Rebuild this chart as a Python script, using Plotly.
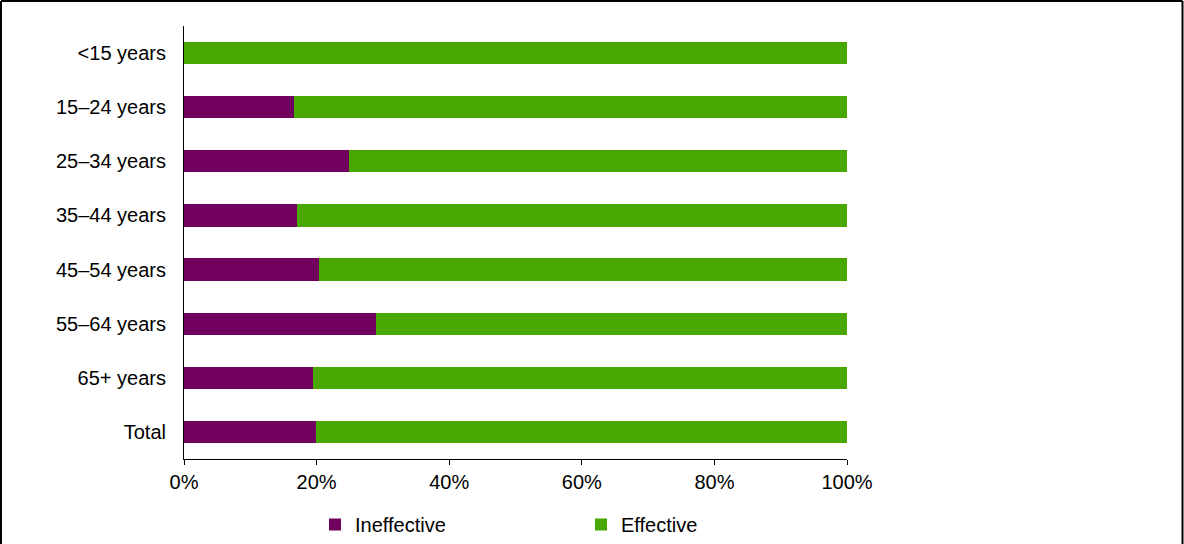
import plotly.graph_objects as go

categories = ["<15 years", "15–24 years", "25–34 years", "35–44 years",
              "45–54 years", "55–64 years", "65+ years", "Total"]
ineffective = [0, 16.6, 24.9, 17.0, 20.4, 29.0, 19.5, 19.9]
effective = [100, 83.4, 75.1, 83.0, 79.6, 71.0, 80.5, 80.1]
x_ticks = [0, 20, 40, 60, 80, 100]
x_tick_labels = ["0%", "20%", "40%", "60%", "80%", "100%"]

W, H = 1184, 544
L, R, T, B = 184, 847, 26, 459
pw, ph = R - L, B - T

def px(x):
    return (x - L) / pw

def py(y):
    return (B - y) / ph

FONT = "Liberation Sans, Arial, sans-serif"
PURPLE = "#72005f"
GREEN = "#48a800"

fig = go.Figure()
fig.add_trace(go.Bar(y=categories, x=ineffective, orientation="h", name="Ineffective",
                     marker=dict(color=PURPLE, line=dict(width=0)), width=0.41))
fig.add_trace(go.Bar(y=categories, x=effective, orientation="h", name="Effective",
                     marker=dict(color=GREEN, line=dict(width=0)), width=0.41))

fig.update_layout(
    width=W, height=H,
    barmode="stack",
    plot_bgcolor="white", paper_bgcolor="white",
    margin=dict(l=L, r=W - R, t=T, b=H - B, pad=0, autoexpand=False),
    font=dict(family=FONT, size=20, color="black"),
    xaxis=dict(range=[0, 100], tickvals=x_ticks, ticktext=x_tick_labels,
               showgrid=False, zeroline=False, showline=True, linecolor="black",
               linewidth=1, ticks="outside", ticklen=5, tickcolor="black",
               tickfont=dict(size=20)),
    yaxis=dict(categoryorder="array", categoryarray=categories, autorange="reversed",
               showgrid=False, zeroline=False, showline=True, linecolor="black",
               linewidth=1, ticks="", ticklabelstandoff=13, tickfont=dict(size=20)),
    legend=dict(orientation="h", x=px(315), xanchor="left", y=py(505), yanchor="top",
                entrywidth=221, entrywidthmode="pixels", font=dict(size=20),
                traceorder="normal",
                bgcolor="rgba(0,0,0,0)", itemclick=False),
    showlegend=True,
)

# outer frame
for x0, y0, x1, y1 in [(1, 1, 1182.5, 1), (1, 1, 1, 560), (1182.5, 1, 1182.5, 560)]:
    fig.add_shape(type="line", xref="paper", yref="paper",
                  x0=px(x0), y0=py(y0), x1=px(x1), y1=py(y1),
                  line=dict(color="black", width=2))

fig.write_html("out.html")
